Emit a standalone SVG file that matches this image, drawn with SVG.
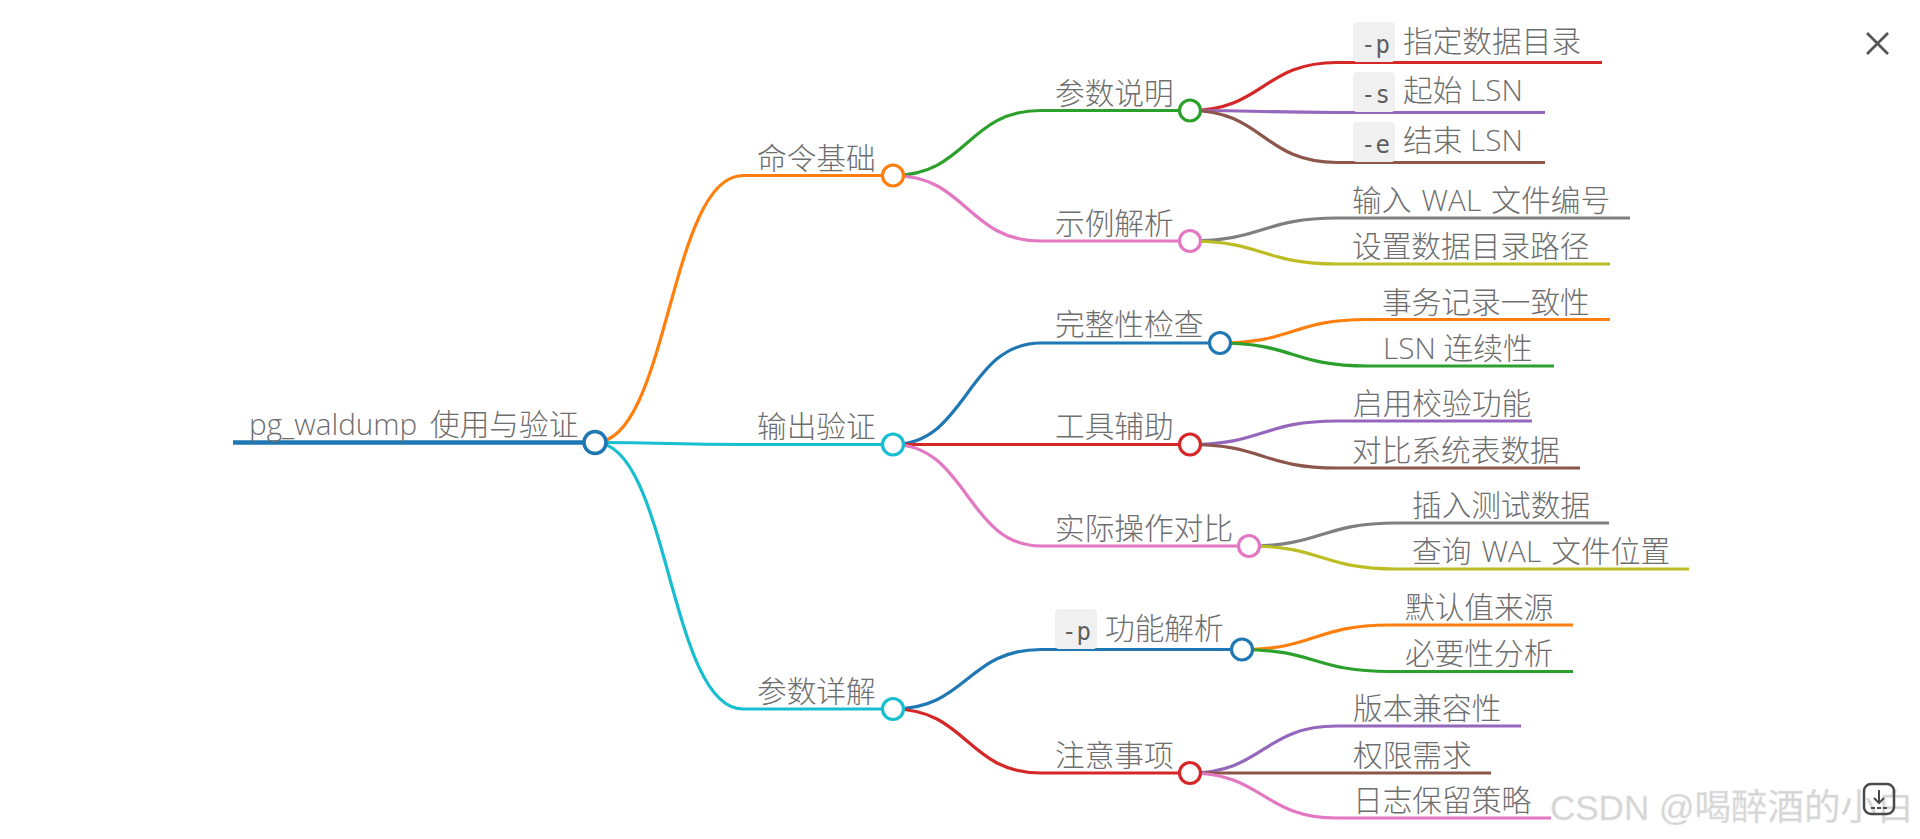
<svg xmlns="http://www.w3.org/2000/svg" width="1920" height="839" viewBox="0 0 1920 839">
<style>
text{font-family:"Open Sans","Noto Sans CJK SC",sans-serif;font-size:29.700px;font-weight:300;fill:#6e6e6e}
.cj{font-family:"Noto Sans CJK SC",sans-serif}
.code{font-family:"DejaVu Sans Mono",monospace;font-size:24px;font-weight:400;fill:#5f5f5f}
.box{fill:#f0f0f0}
#connectors path{fill:none;stroke-width:3.200}
.u{stroke-width:3.200;fill:none}
circle{fill:#fff;stroke-width:3.200}
.c0{stroke:#1f77b4}.c1{stroke:#ff7f0e}.c2{stroke:#2ca02c}.c3{stroke:#d62728}.c4{stroke:#9467bd}.c5{stroke:#8c564b}.c6{stroke:#e377c2}.c7{stroke:#7f7f7f}.c8{stroke:#bcbd22}.c9{stroke:#17becf}
</style>
<g id="connectors">
<path class="c1" d="M595 442.500C669 442.500 669 175.500 743 175.500"/>
<path class="c9" d="M595 442.500C669 442.500 669 444.500 743 444.500"/>
<path class="c9" d="M595 442.500C669 442.500 669 709 743 709"/>
<path class="c2" d="M893 175.500C967 175.500 967 110.500 1041 110.500"/>
<path class="c6" d="M893 175.500C967 175.500 967 241 1041 241"/>
<path class="c0" d="M893 444.500C967 444.500 967 343 1041 343"/>
<path class="c3" d="M893 444.500C967 444.500 967 444.500 1041 444.500"/>
<path class="c6" d="M893 444.500C967 444.500 967 546 1041 546"/>
<path class="c0" d="M893 709C967 709 967 649.500 1041 649.500"/>
<path class="c3" d="M893 709C967 709 967 773 1041 773"/>
<path class="c3" d="M1190 110.500C1263 110.500 1263 62.500 1337 62.500"/>
<path class="c4" d="M1190 110.500C1263 110.500 1263 112.500 1337 112.500"/>
<path class="c5" d="M1190 110.500C1263 110.500 1263 162.500 1337 162.500"/>
<path class="c7" d="M1190 241C1263 241 1263 218 1337 218"/>
<path class="c8" d="M1190 241C1263 241 1263 264 1337 264"/>
<path class="c1" d="M1220 343C1293 343 1293 319.500 1367 319.500"/>
<path class="c2" d="M1220 343C1293 343 1293 366 1367 366"/>
<path class="c4" d="M1190 444.500C1263 444.500 1263 421 1337 421"/>
<path class="c5" d="M1190 444.500C1263 444.500 1263 468 1337 468"/>
<path class="c7" d="M1249 546C1322 546 1322 523 1396 523"/>
<path class="c8" d="M1249 546C1322 546 1322 569 1396 569"/>
<path class="c1" d="M1242 649.500C1315 649.500 1315 625 1389 625"/>
<path class="c2" d="M1242 649.500C1315 649.500 1315 671.500 1389 671.500"/>
<path class="c4" d="M1190 773C1263 773 1263 726 1337 726"/>
<path class="c5" d="M1190 773C1263 773 1263 773 1337 773"/>
<path class="c6" d="M1190 773C1263 773 1263 818 1337 818"/>
</g>
<g id="root"><path class="u c0" style="stroke-width:4.500" d="M233 442.500H595"/><text x="249" y="435" word-spacing="5">pg_waldump <tspan class="cj">使用与验证</tspan></text><circle class="c0" style="stroke-width:3.500" cx="595" cy="442.500" r="11"/></g>
<g id="n-basic"><path class="u c1" d="M743 175.500H893"/><text class="cj" x="757" y="169">命令基础</text><circle class="c1" cx="893" cy="175.500" r="10.500"/></g>
<g id="n-verify"><path class="u c9" d="M743 444.500H893"/><text class="cj" x="757" y="437">输出验证</text><circle class="c9" cx="893" cy="444.500" r="10.500"/></g>
<g id="n-params"><path class="u c9" d="M743 709H893"/><text class="cj" x="757" y="702">参数详解</text><circle class="c9" cx="893" cy="709" r="10.500"/></g>
<g id="n-desc"><path class="u c2" d="M1041 110.500H1190"/><text class="cj" x="1055" y="104">参数说明</text><circle class="c2" cx="1190" cy="110.500" r="10.500"/></g>
<g id="n-example"><path class="u c6" d="M1041 241H1190"/><text class="cj" x="1055" y="234">示例解析</text><circle class="c6" cx="1190" cy="241" r="10.500"/></g>
<g id="n-integrity"><path class="u c0" d="M1041 343H1220"/><text class="cj" x="1055" y="335">完整性检查</text><circle class="c0" cx="1220" cy="343" r="10.500"/></g>
<g id="n-tools"><path class="u c3" d="M1041 444.500H1190"/><text class="cj" x="1055" y="437">工具辅助</text><circle class="c3" cx="1190" cy="444.500" r="10.500"/></g>
<g id="n-compare"><path class="u c6" d="M1041 546H1249"/><text class="cj" x="1055" y="539">实际操作对比</text><circle class="c6" cx="1249" cy="546" r="10.500"/></g>
<g id="n-pfunc"><path class="u c0" d="M1041 649.500H1242"/><rect class="box" x="1055" y="609" width="42" height="40" rx="4"/><text class="code" x="1062" y="640">-p</text><text class="cj" x="1105" y="639">功能解析</text><circle class="c0" cx="1242" cy="649.500" r="10.500"/></g>
<g id="n-notes"><path class="u c3" d="M1041 773H1190"/><text class="cj" x="1055" y="766">注意事项</text><circle class="c3" cx="1190" cy="773" r="10.500"/></g>
<g id="l-p"><path class="u c3" d="M1337 62.500H1602"/><rect class="box" x="1353" y="22" width="42" height="40" rx="4"/><text class="code" x="1361" y="53">-p</text><text class="cj" x="1403" y="52">指定数据目录</text></g>
<g id="l-s"><path class="u c4" d="M1337 112.500H1545"/><rect class="box" x="1353" y="72" width="42" height="40" rx="4"/><text class="code" x="1361" y="103">-s</text><text x="1403" y="101"><tspan class="cj">起始</tspan> LSN</text></g>
<g id="l-e"><path class="u c5" d="M1337 162.500H1545"/><rect class="box" x="1353" y="122" width="42" height="40" rx="4"/><text class="code" x="1361" y="153">-e</text><text x="1403" y="151"><tspan class="cj">结束</tspan> LSN</text></g>
<g id="l-wal"><path class="u c7" d="M1337 218H1630"/><text x="1352" y="211" word-spacing="2.500"><tspan class="cj">输入</tspan> WAL <tspan class="cj">文件编号</tspan></text></g>
<g id="l-dir"><path class="u c8" d="M1337 264H1610"/><text class="cj" x="1352" y="257">设置数据目录路径</text></g>
<g id="l-tx"><path class="u c1" d="M1367 319.500H1610"/><text class="cj" x="1382" y="313">事务记录一致性</text></g>
<g id="l-lsn"><path class="u c2" d="M1367 366H1554"/><text x="1383" y="359">LSN <tspan class="cj">连续性</tspan></text></g>
<g id="l-check"><path class="u c4" d="M1337 421H1532"/><text class="cj" x="1353" y="414">启用校验功能</text></g>
<g id="l-sys"><path class="u c5" d="M1337 468H1580"/><text class="cj" x="1352" y="461">对比系统表数据</text></g>
<g id="l-insert"><path class="u c7" d="M1396 523H1609"/><text class="cj" x="1412" y="516">插入测试数据</text></g>
<g id="l-query"><path class="u c8" d="M1396 569H1689"/><text x="1412" y="562" word-spacing="2.500"><tspan class="cj">查询</tspan> WAL <tspan class="cj">文件位置</tspan></text></g>
<g id="l-default"><path class="u c1" d="M1389 625H1573"/><text class="cj" x="1405" y="618">默认值来源</text></g>
<g id="l-need"><path class="u c2" d="M1389 671.500H1573"/><text class="cj" x="1405" y="664">必要性分析</text></g>
<g id="l-ver"><path class="u c4" d="M1337 726H1521"/><text class="cj" x="1353" y="719">版本兼容性</text></g>
<g id="l-perm"><path class="u c5" d="M1337 773H1491"/><text class="cj" x="1353" y="766">权限需求</text></g>
<g id="l-log"><path class="u c6" d="M1337 818H1551"/><text class="cj" x="1353" y="811">日志保留策略</text></g>
<g id="close"><path d="M1867 33L1888 54M1888 33L1867 54" stroke="#555" stroke-width="2.800" fill="none"/></g>
<g id="watermark"><text x="1550" y="820" style="font-family:'Liberation Sans','Noto Sans CJK SC',sans-serif;font-size:35px;font-weight:400;fill:#d4d4d4;stroke:#e8e8e8;stroke-width:.5">CSDN @<tspan font-size="36.500">喝醉酒的小白</tspan></text></g>
<g id="download"><rect x="1864" y="784" width="30" height="30" rx="7" fill="none" stroke="#4a4a4a" stroke-width="2.500"/><path d="M1879 790V803M1874 798L1879 803L1884 798M1871 808H1875M1877 808H1881M1883 808H1887" fill="none" stroke="#4a4a4a" stroke-width="2"/></g>
</svg>
